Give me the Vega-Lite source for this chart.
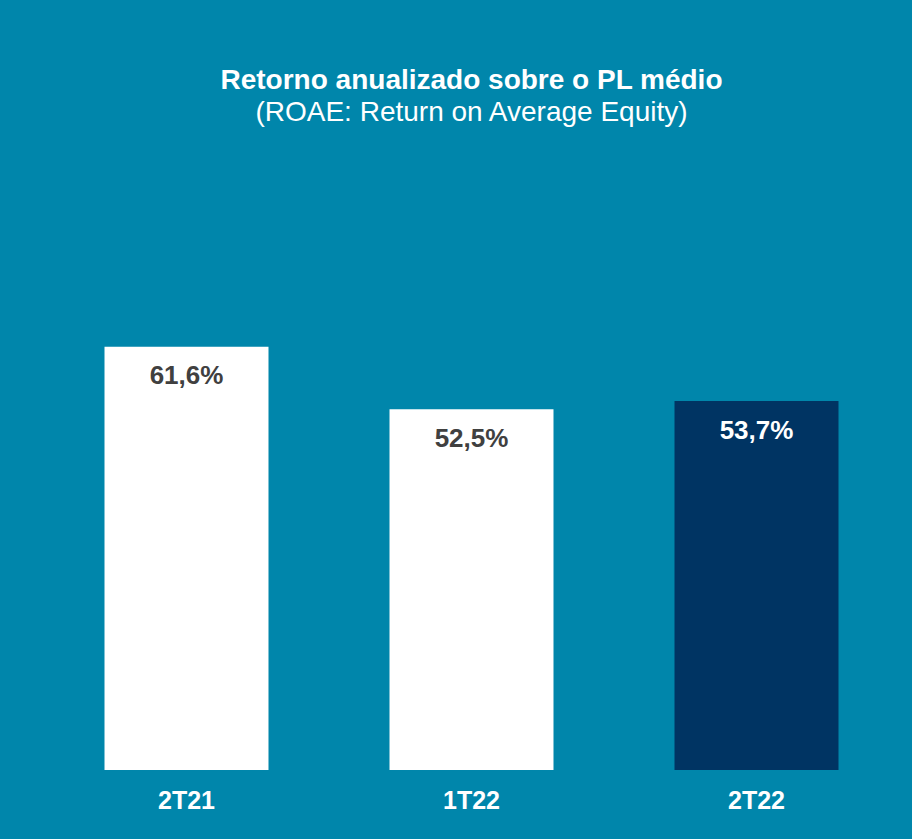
{
  "$schema": "https://vega.github.io/schema/vega-lite/v6.json",
  "width": 855,
  "height": 481,
  "autosize": {"type": "none"},
  "padding": {"left": 44, "top": 289, "right": 13, "bottom": 69},
  "background": "#0086AB",
  "config": {"view": {"stroke": null}, "font": "Liberation Sans"},
  "title": {
    "text": "Retorno anualizado sobre o PL médio",
    "subtitle": "(ROAE: Return on Average Equity)",
    "anchor": "middle",
    "frame": "group",
    "orient": "top",
    "offset": 162,
    "font": "Liberation Sans",
    "fontSize": 28,
    "fontWeight": "bold",
    "color": "#FFFFFF",
    "subtitleFont": "Liberation Sans",
    "subtitleFontSize": 28,
    "subtitleColor": "#FFFFFF",
    "subtitlePadding": 4
  },
  "data": {
    "values": [
      {"periodo": "2T21", "roae": 61.6, "rotulo": "61,6%", "tipo": "hist"},
      {"periodo": "1T22", "roae": 52.5, "rotulo": "52,5%", "tipo": "hist"},
      {"periodo": "2T22", "roae": 53.7, "rotulo": "53,7%", "tipo": "atual"}
    ]
  },
  "encoding": {
    "x": {
      "field": "periodo",
      "type": "nominal",
      "sort": null,
      "scale": {"paddingInner": 0.4246, "paddingOuter": 0.2123},
      "axis": {
        "title": null,
        "labelAngle": 0,
        "domain": false,
        "ticks": false,
        "grid": false,
        "labelColor": "#FFFFFF",
        "labelFontSize": 25,
        "labelFontWeight": "bold",
        "labelFont": "Liberation Sans",
        "labelPadding": 18
      }
    },
    "y": {
      "field": "roae",
      "type": "quantitative",
      "scale": {"domain": [0, 70]},
      "axis": null
    }
  },
  "layer": [
    {
      "mark": {"type": "bar"},
      "encoding": {
        "color": {
          "field": "tipo",
          "type": "nominal",
          "scale": {"domain": ["hist", "atual"], "range": ["#FFFFFF", "#003463"]},
          "legend": null
        }
      }
    },
    {
      "mark": {
        "type": "text",
        "baseline": "alphabetic",
        "dy": 37.5,
        "fontSize": 26,
        "fontWeight": "bold",
        "font": "Liberation Sans"
      },
      "encoding": {
        "text": {"field": "rotulo"},
        "color": {
          "condition": {"test": "datum.tipo === 'atual'", "value": "#FFFFFF"},
          "value": "#404040"
        }
      }
    }
  ]
}
